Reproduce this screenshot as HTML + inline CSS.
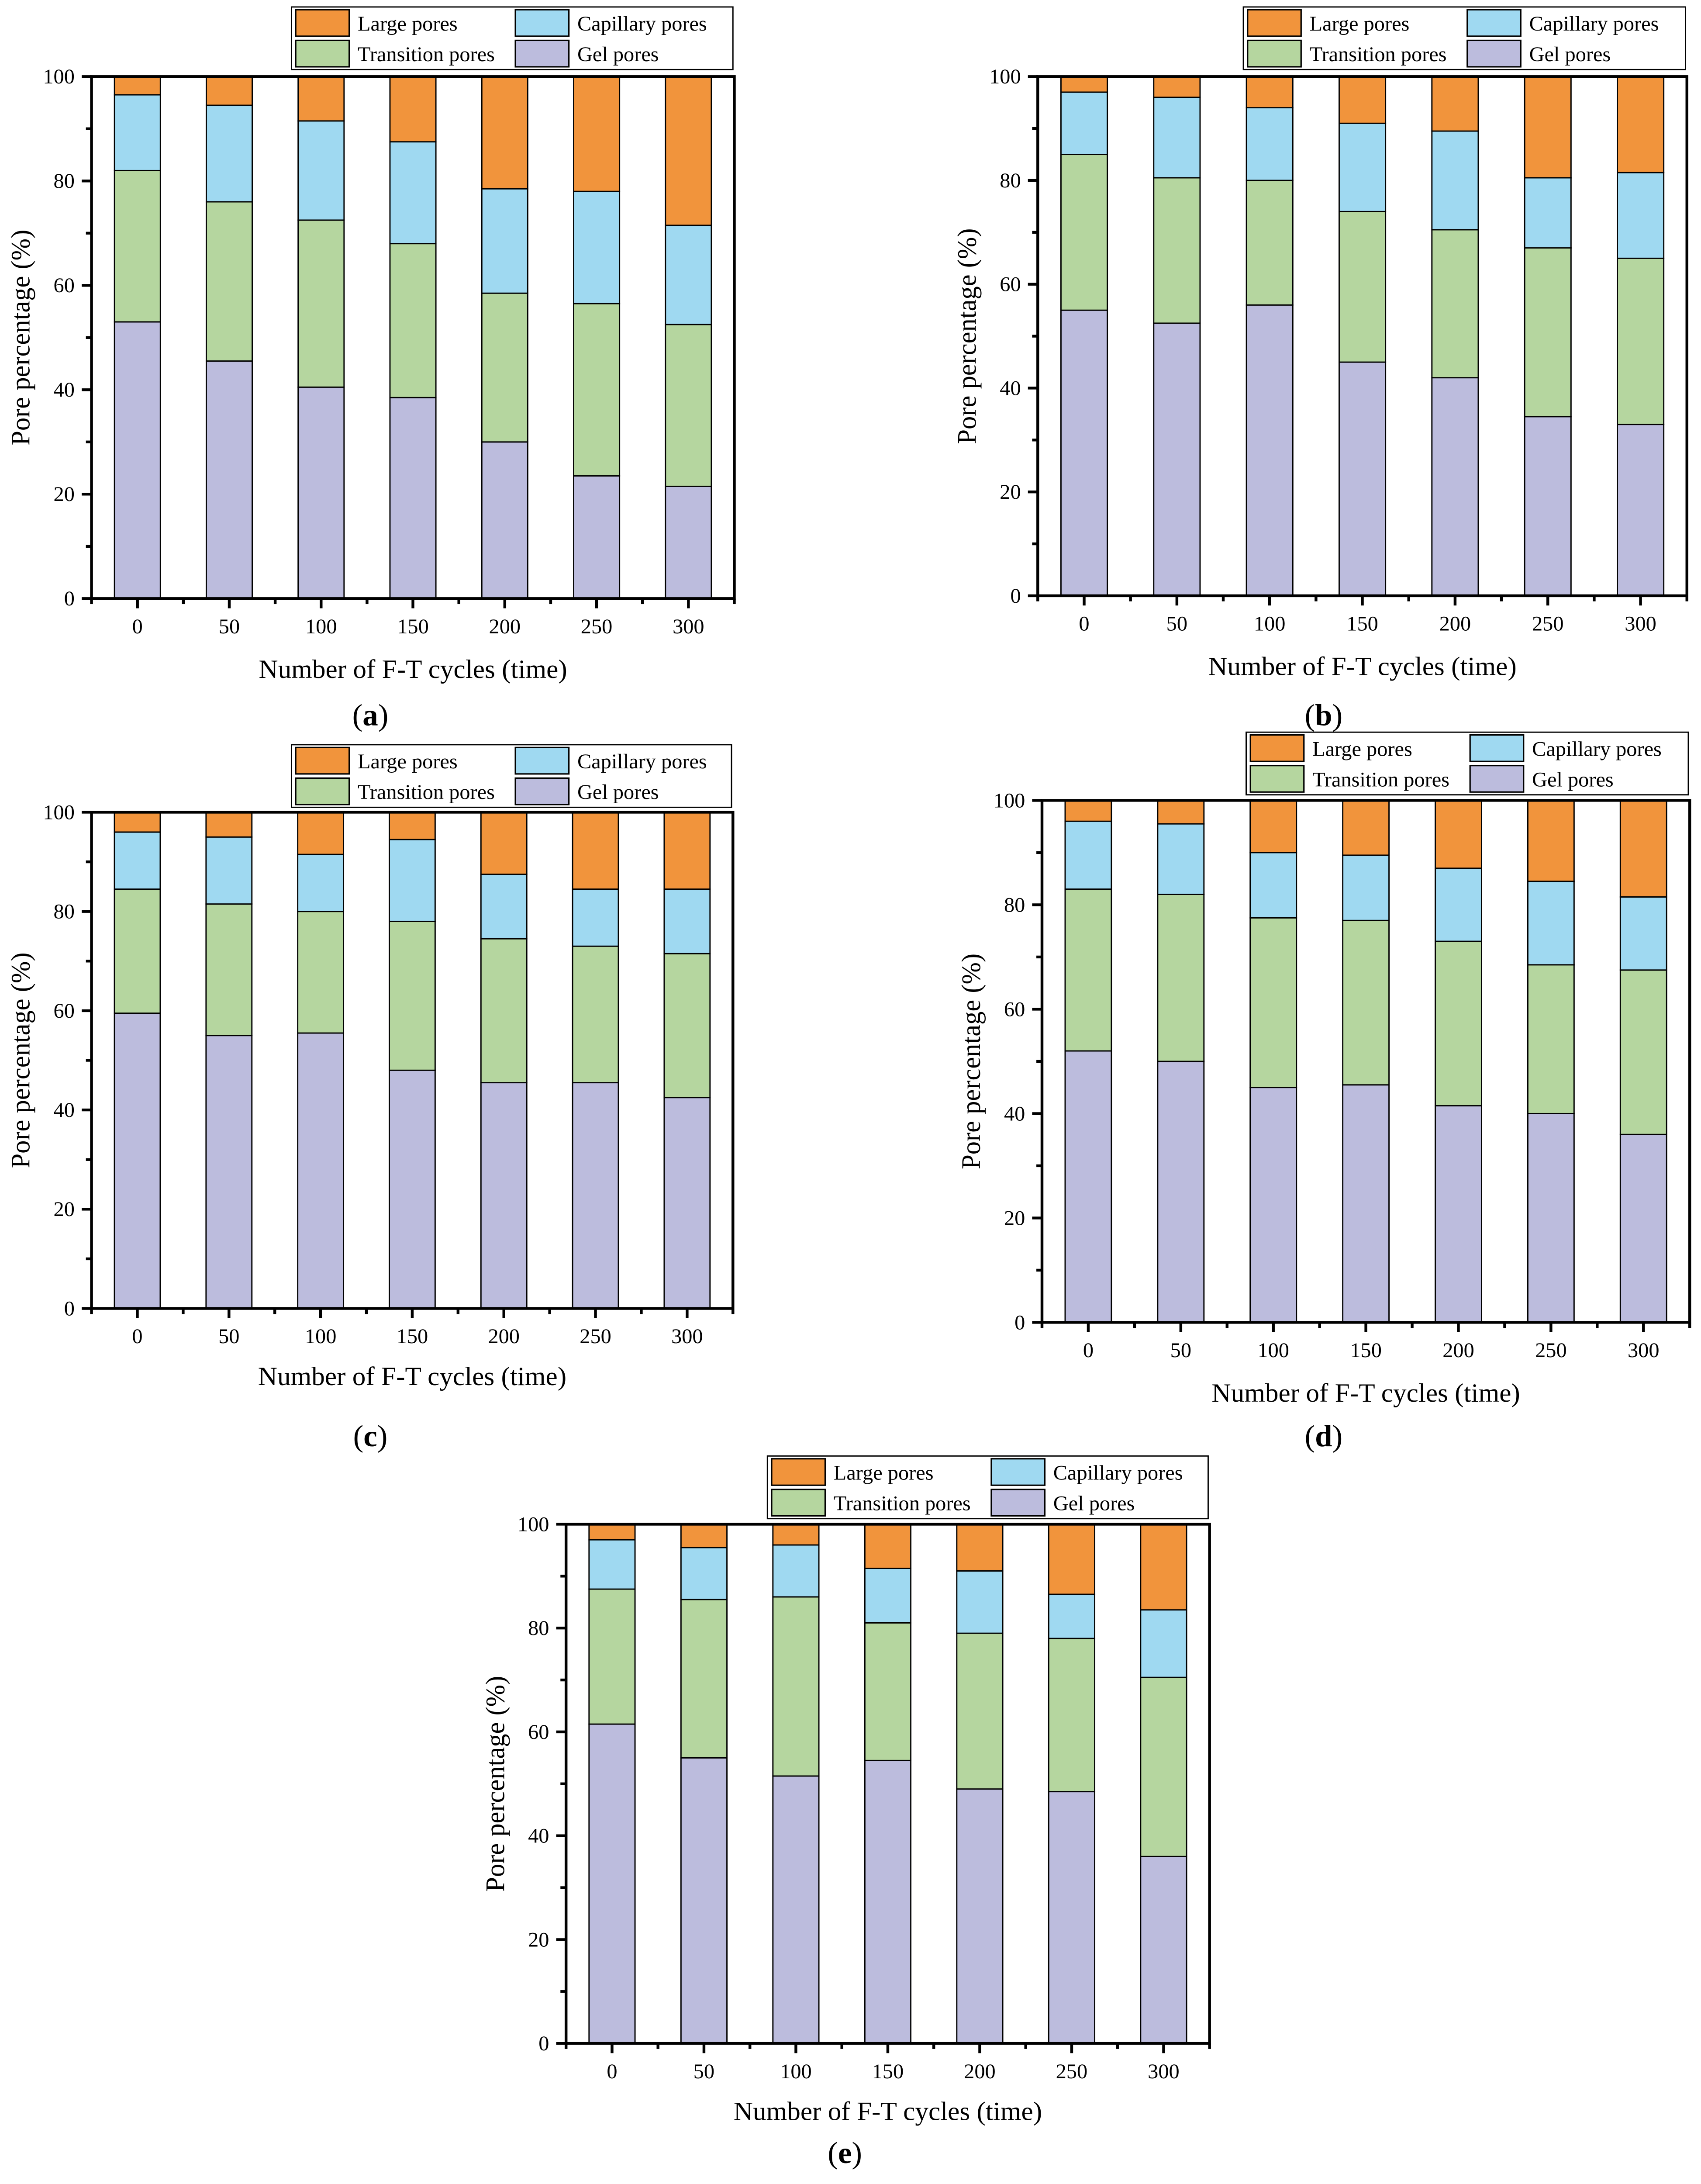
<!DOCTYPE html>
<html><head><meta charset="utf-8"><style>html,body{margin:0;padding:0;background:#fff;overflow:hidden;width:100vw;height:100vh}svg{display:block;position:absolute;left:0;top:0;width:100vw;height:100vh}</style></head>
<body>
<svg id="fig" viewBox="0 0 1208 1569" preserveAspectRatio="none" xmlns="http://www.w3.org/2000/svg" font-family="Liberation Serif, serif"></svg>
<script>
const categories = ["0","50","100","150","200","250","300"];
const yTicks = [0,20,40,60,80,100];
const seriesNames = ["Gel pores","Transition pores","Capillary pores","Large pores"];
const seriesColors = ["#BCBCDD","#B5D69F","#9FD9F1","#F1943C"];
const gelA = [53,45.5,40.5,38.5,30,23.5,21.5];
const transA = [29,30.5,32,29.5,28.5,33,31];
const capA = [14.5,18.5,19,19.5,20,21.5,19];
const largeA = [3.5,5.5,8.5,12.5,21.5,22,28.5];
const gelB = [55,52.5,56,45,42,34.5,33];
const transB = [30,28,24,29,28.5,32.5,32];
const capB = [12,15.5,14,17,19,13.5,16.5];
const largeB = [3,4,6,9,10.5,19.5,18.5];
const gelC = [59.5,55,55.5,48,45.5,45.5,42.5];
const transC = [25,26.5,24.5,30,29,27.5,29];
const capC = [11.5,13.5,11.5,16.5,13,11.5,13];
const largeC = [4,5,8.5,5.5,12.5,15.5,15.5];
const gelD = [52,50,45,45.5,41.5,40,36];
const transD = [31,32,32.5,31.5,31.5,28.5,31.5];
const capD = [13,13.5,12.5,12.5,14,16,14];
const largeD = [4,4.5,10,10.5,13,15.5,18.5];
const gelE = [61.5,55,51.5,54.5,49,48.5,36];
const transE = [26,30.5,34.5,26.5,30,29.5,34.5];
const capE = [9.5,10,10,10.5,12,8.5,13];
const largeE = [3,4.5,4,8.5,9,13.5,16.5];

const panels = [
 {id:"a",L:65,R:521.5,T:55,B:430,lx:207,ly:5,tickY:450,titleY:487,labX:263,labY:521,data:[gelA,transA,capA,largeA]},
 {id:"b",L:737,R:1198,T:55,B:428,lx:883,ly:5,tickY:448,titleY:485,labX:940,labY:521,data:[gelB,transB,capB,largeB]},
 {id:"c",L:65,R:520.5,T:583.5,B:940,lx:207,ly:535,tickY:960,titleY:995,labX:263,labY:1039,data:[gelC,transC,capC,largeC]},
 {id:"d",L:740,R:1200,T:575,B:950,lx:885,ly:526,tickY:970,titleY:1007,labX:940,labY:1039,data:[gelD,transD,capD,largeD]},
 {id:"e",L:402,R:859,T:1095,B:1468,lx:545,ly:1046,tickY:1488,titleY:1523,labX:600,labY:1554,data:[gelE,transE,capE,largeE]}
];
const NS="http://www.w3.org/2000/svg";
const svg=document.getElementById("fig");
function mk(tag,attrs,parent){const e=document.createElementNS(NS,tag);for(const k in attrs)e.setAttribute(k,attrs[k]);(parent||svg).appendChild(e);return e;}
panels.forEach(p=>{
 const g=mk("g",{});
 
 
 const n=categories.length, step=(p.R-p.L)/n;
 const xc=i=>p.L+step*(i+0.5);
 const ys=v=>p.B-(p.B-p.T)*v/100;
 const bw=step*0.5;
 for(let i=0;i<n;i++){
  let acc=0;
  for(let s=0;s<4;s++){
   const v=p.data[s][i];
   const r=mk("rect",{x:xc(i)-bw/2,y:ys(acc+v),width:bw,height:ys(acc)-ys(acc+v),fill:seriesColors[s],stroke:"#000","stroke-width":0.9},g);
   
   
   acc+=v;
  }
 }
 const ax=mk("rect",{x:p.L,y:p.T,width:p.R-p.L,height:p.B-p.T,fill:"none",stroke:"#000","stroke-width":2},g);
 
 
 yTicks.forEach(t=>{
  mk("line",{x1:p.L-7,x2:p.L,y1:ys(t),y2:ys(t),stroke:"#000","stroke-width":2},g);
  if(t<100) mk("line",{x1:p.L-4,x2:p.L,y1:ys(t+10),y2:ys(t+10),stroke:"#000","stroke-width":2},g);
  const tx=mk("text",{x:p.L-12,y:ys(t)+5,"font-size":15,"text-anchor":"end"},g);
  tx.textContent=t;
  
  
 });
 categories.forEach((c,i)=>{
  mk("line",{x1:xc(i),x2:xc(i),y1:p.B,y2:p.B+7,stroke:"#000","stroke-width":2},g);
  mk("line",{x1:p.L+step*i,x2:p.L+step*i,y1:p.B,y2:p.B+4,stroke:"#000","stroke-width":2},g);
  const tx=mk("text",{x:xc(i),y:p.tickY+5,"font-size":15,"text-anchor":"middle"},g);
  tx.textContent=c;
  
  
 });
 mk("line",{x1:p.R,x2:p.R,y1:p.B,y2:p.B+4,stroke:"#000","stroke-width":2},g);
 const yt=mk("text",{x:0,y:0,"font-size":19,"text-anchor":"middle",transform:`translate(${p.L-44},${(p.T+p.B)/2}) rotate(-90)`},g);
 yt.textContent="Pore percentage (%)";
 
 
 const xt=mk("text",{x:(p.L+p.R)/2,y:p.titleY,"font-size":19,"text-anchor":"middle"},g);
 xt.textContent="Number of F-T cycles (time)";
 
 
 const pl=mk("text",{x:p.labX,y:p.labY,"font-size":22,"text-anchor":"middle"},g);
 
 
 const t1=mk("tspan",{},pl); t1.textContent="(";
 const t2=mk("tspan",{"font-weight":"bold"},pl); t2.textContent=p.id;
 const t3=mk("tspan",{},pl); t3.textContent=")";
 const lg=mk("g",{},g);
 
 
 mk("rect",{x:p.lx,y:p.ly,width:p.R-1-p.lx,height:45,fill:"#fff",stroke:"#000","stroke-width":0.9},lg);
 const order=[3,2,1,0];
 order.forEach((s,k)=>{
  const col=k%2,row=Math.floor(k/2);
  const sx=p.lx+3+col*156, sy=p.ly+2+row*22;
  const e=mk("g",{},lg);
  
  
  mk("rect",{x:sx,y:sy,width:38,height:19,fill:seriesColors[s],stroke:"#000","stroke-width":1},e);
  const t=mk("text",{x:sx+44,y:sy+15,"font-size":15},e);
  t.textContent=seriesNames[s];
 });
});
</script>
</body></html>
